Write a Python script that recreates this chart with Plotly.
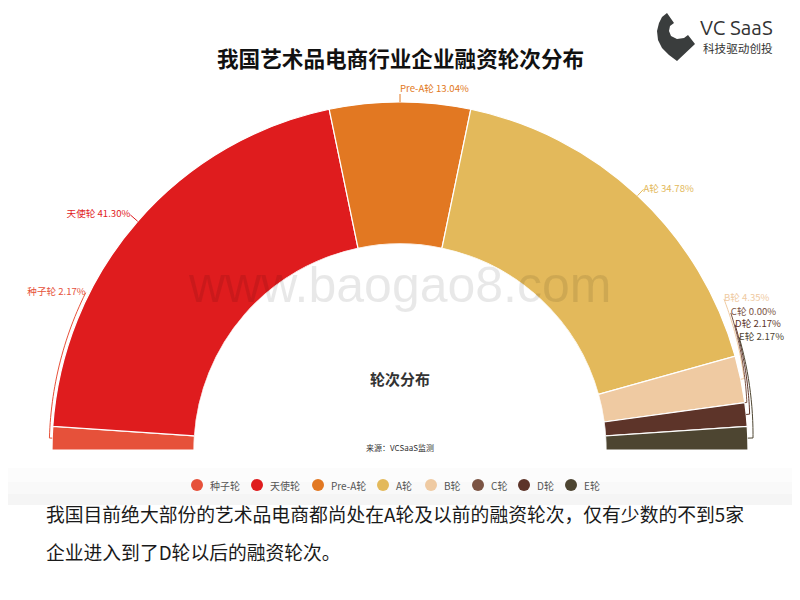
import numpy as np
import plotly.graph_objects as go

# ---------------- data ----------------
categories = ["种子轮", "天使轮", "Pre-A轮", "A轮", "B轮", "C轮", "D轮", "E轮"]
shares = [2.17, 41.30, 13.04, 34.78, 4.35, 0.00, 2.17, 2.17]
colors = ["#E6513A", "#DF1C1E", "#E27822", "#E3B95B", "#EFCAA2", "#7B5444", "#5D3429", "#4D4531"]

title_text = "我国艺术品电商行业企业融资轮次分布"
center_text = "轮次分布"
source_text = "来源：VCSaaS监测"
para_lines = ["我国目前绝大部份的艺术品电商都尚处在A轮及以前的融资轮次，仅有少数的不到5家",
              "企业进入到了D轮以后的融资轮次。"]

# ---------------- style / layout ----------------
W, H = 800, 600
OFF = 8  # page body margin
FONT = "Noto Sans CJK SC, Noto Sans, sans-serif"
CX, CY = 400, 450          # donut centre (screen px)
R_OUT, R_IN = 348, 206     # donut radii (px)
RMAX = 1.1                 # radial range so that labels fit inside the polar area

# label leader style: (elbow radius, end radius, end angle or None, text position), radii relative to R_OUT
label_style = [
    (1.008, 1.010, 26.6, "middle left"),
    (1.028, 1.028, None, "middle left"),
    (1.023, 1.023, None, "top right"),
    (1.025, 1.025, None, "middle right"),
    (1.010, 1.027, 155.0, "middle right"),
    (1.006, 1.029, 157.5, "middle right"),
    (1.010, 1.028, 159.5, "middle right"),
    (1.015, 1.027, 161.6, "middle right"),
]
legend_x = [197, 257, 318, 383, 431, 478, 524, 571]
legend_y = 485


def px(x, y):
    """screen pixel -> paper fraction"""
    return (x - OFF) / W, 1 - (y - OFF) / H


# polar geometry: bars r in [0,1], axis [0,RMAX]
Rp = R_IN + (R_OUT - R_IN) * RMAX
HOLE = R_IN / Rp


def rdata(k):
    rho = k * R_OUT
    return (rho / Rp - HOLE) / (1 - HOLE) * RMAX


total = sum(shares)
widths = [v / total * 180.0 for v in shares]
ends = np.cumsum(widths)
mids = [e - w / 2 for e, w in zip(ends, widths)]

fig = go.Figure()

# half-donut slices
fig.add_trace(go.Barpolar(
    r=[1.0] * len(shares), theta=mids, width=widths, base=0,
    marker=dict(color=colors, line=dict(color="white", width=1.2)),
    text=categories, hoverinfo="text", showlegend=False,
))

# leader lines + labels
for cat, v, col, m, st in zip(categories, shares, colors, mids, label_style):
    r1, r2, tend, tpos = st
    if tend is None:
        rr = [1.0, r1]
        tt = [m, m]
        lab_r, lab_t = r2, m
    else:
        seg_t = np.linspace(m, tend, 30)
        seg_r = np.linspace(r1, r2, 30)
        rr = [1.0] + list(seg_r)
        tt = [m] + list(seg_t)
        lab_r, lab_t = r2, tend
    fig.add_trace(go.Scatterpolar(
        r=[rdata(k) for k in rr], theta=tt, mode="lines", line=dict(color=col, width=1),
        hoverinfo="skip", showlegend=False, cliponaxis=False,
    ))
    fig.add_trace(go.Scatterpolar(
        r=[rdata(lab_r)], theta=[lab_t], mode="text", text=[f"{cat} {v:.2f}%"],
        textposition=tpos, textfont=dict(color=col, size=9.6, family=FONT),
        hoverinfo="skip", showlegend=False, cliponaxis=False,
    ))

x0, y1 = px(CX - Rp, CY - Rp)
x1, y0 = px(CX + Rp, CY)
fig.update_layout(
    width=W, height=H,
    margin=dict(l=0, r=0, t=0, b=0),
    paper_bgcolor="white", plot_bgcolor="white",
    font=dict(family=FONT),
    polar=dict(
        domain=dict(x=[x0, x1], y=[y0, y1]),
        sector=[0, 180], hole=HOLE, bgcolor="rgba(0,0,0,0)",
        radialaxis=dict(range=[0, RMAX], visible=False, showgrid=False),
        angularaxis=dict(rotation=180, direction="clockwise", visible=False, showgrid=False),
    ),
)

shapes = []
anns = []

# faint shadow band at bottom of chart image
for ya, yb, c in [(468, 482, "#fcfcfc"), (482, 494, "#f9f9f9"), (494, 505, "#f5f5f5")]:
    xa, ya_ = px(0, ya)
    xb, yb_ = px(W + OFF, yb)
    shapes.append(dict(type="rect", xref="paper", yref="paper", x0=xa, x1=xb, y0=yb_, y1=ya_,
                       fillcolor=c, line=dict(width=0), layer="below"))

# title
tx, ty = px(400, 57)
anns.append(dict(x=tx, y=ty, xref="paper", yref="paper", text=f"<b>{title_text}</b>", showarrow=False,
                 font=dict(size=21.6, color="#111", family=FONT), xanchor="center", yanchor="middle"))
# watermark
wx, wy = px(399, 285)
anns.append(dict(x=wx, y=wy, xref="paper", yref="paper", text="www.baogao8.com", showarrow=False,
                 font=dict(size=50, color="rgba(0,0,0,0.09)", family="Liberation Sans, sans-serif"),
                 xanchor="center", yanchor="middle"))
# center text
cx, cy = px(400, 378)
anns.append(dict(x=cx, y=cy, xref="paper", yref="paper", text=f"<b>{center_text}</b>", showarrow=False,
                 font=dict(size=15, color="#333", family=FONT), xanchor="center", yanchor="middle"))
sx, sy = px(400, 447)
anns.append(dict(x=sx, y=sy, xref="paper", yref="paper", text=source_text, showarrow=False,
                 font=dict(size=8, color="#333", family=FONT), xanchor="center", yanchor="middle"))

# legend
for cat, col, lx in zip(categories, colors, legend_x):
    ax0, ay0 = px(lx - 6, legend_y + 6)
    ax1, ay1 = px(lx + 6, legend_y - 6)
    shapes.append(dict(type="circle", xref="paper", yref="paper", x0=ax0, x1=ax1, y0=ay0, y1=ay1,
                       fillcolor=col, line=dict(width=0)))
    lx_, ly_ = px(lx + 11, legend_y)
    anns.append(dict(x=lx_, y=ly_, xref="paper", yref="paper", text=cat, showarrow=False,
                     font=dict(size=10, color="#555", family=FONT), xanchor="left", yanchor="middle"))

# paragraph
for i, line in enumerate(para_lines):
    lx_, ly_ = px(44, 513 + i * 38)
    anns.append(dict(x=lx_, y=ly_, xref="paper", yref="paper", text=line, showarrow=False,
                     font=dict(size=18.8, color="#1a1a1a", family=FONT), xanchor="left", yanchor="middle"))

# logo
pts = [(667, 13), (662, 17), (659, 23), (657, 31), (658, 40), (662, 48), (669, 55), (677, 61),
       (695, 44), (688, 35), (684, 38), (677, 39), (671, 36), (669, 31), (670, 26), (674, 23)]
path = "M " + " L ".join(f"{px(x, y)[0]:.5f},{px(x, y)[1]:.5f}" for x, y in pts) + " Z"
shapes.append(dict(type="path", xref="paper", yref="paper", path=path, fillcolor="#3a3d3d",
                   line=dict(width=0)))
lgx, lgy = px(698, 28)
anns.append(dict(x=lgx, y=lgy, xref="paper", yref="paper", text="VC SaaS", showarrow=False,
                 font=dict(size=20.5, color="#333", family="Ubuntu, Noto Sans, DejaVu Sans, sans-serif"),
                 xanchor="left", yanchor="middle"))
lsx, lsy = px(701, 48)
anns.append(dict(x=lsx, y=lsy, xref="paper", yref="paper", text="科技驱动创投", showarrow=False,
                 font=dict(size=11.6, color="#333", family=FONT), xanchor="left", yanchor="middle"))

fig.update_layout(shapes=shapes, annotations=anns)
fig.write_html("out.html")
